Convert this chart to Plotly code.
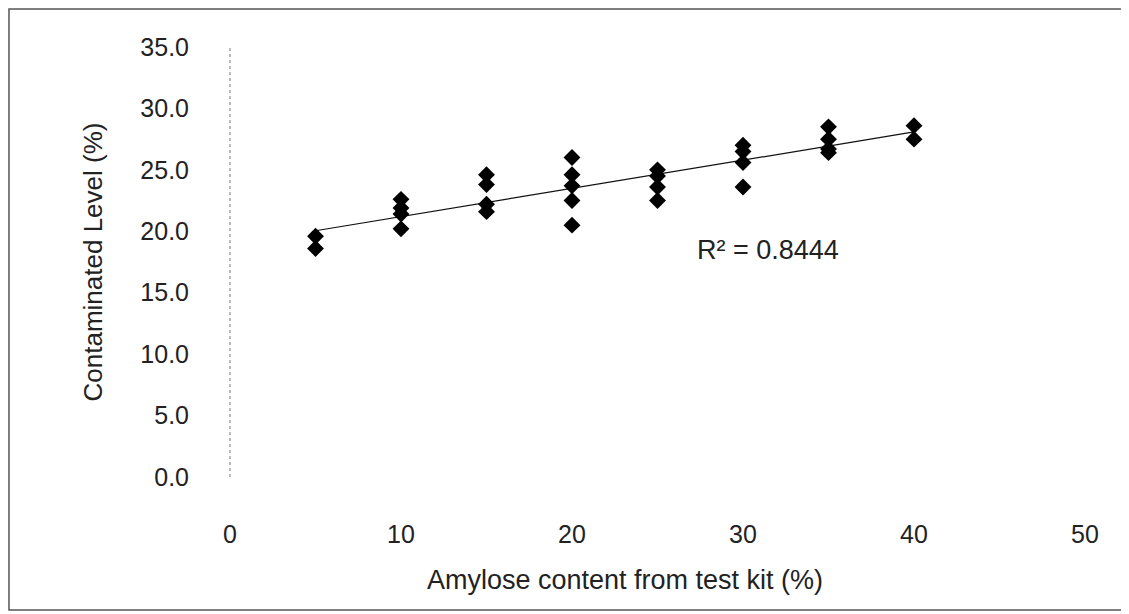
import numpy as np
import plotly.graph_objects as go

# Data
amylose_x = [5, 5,
             10, 10, 10, 10,
             15, 15, 15, 15,
             20, 20, 20, 20, 20,
             25, 25, 25, 25,
             30, 30, 30, 30,
             35, 35, 35, 35,
             40, 40]
contam_y = [19.6, 18.6,
            22.6, 21.9, 21.4, 20.2,
            24.6, 23.8, 22.2, 21.6,
            26.0, 24.6, 23.7, 22.5, 20.5,
            25.0, 24.5, 23.6, 22.5,
            27.0, 26.5, 25.6, 23.6,
            28.5, 27.5, 26.7, 26.4,
            28.6, 27.5]
r2_label = "R\u00b2 = 0.8444"
x_title = "Amylose content from test kit (%)"
y_title = "Contaminated Level (%)"
x_ticks = [0, 10, 20, 30, 40, 50]
y_ticks = [0, 5, 10, 15, 20, 25, 30, 35]

xa = np.array(amylose_x, dtype=float)
ya = np.array(contam_y, dtype=float)
slope, intercept = np.polyfit(xa, ya, 1)
fit_x = [xa.min(), xa.max()]
fit_y = [slope * v + intercept for v in fit_x]

FONT = "Liberation Sans, Arial, sans-serif"

fig = go.Figure()
fig.add_trace(go.Scatter(x=fit_x, y=fit_y, mode="lines",
                         line=dict(color="#111", width=1.2),
                         showlegend=False, hoverinfo="skip"))
fig.add_trace(go.Scatter(x=amylose_x, y=contam_y, mode="markers",
                         marker=dict(symbol="diamond", size=13, color="black",
                                     line=dict(width=0)),
                         showlegend=False))

fig.add_annotation(x=27.2, y=18.5, xref="x", yref="y", text=r2_label,
                   showarrow=False, xanchor="left", yanchor="middle",
                   font=dict(family=FONT, size=27, color="#222"))

# x-axis title (sits a little left of the plot centre in the reference)
fig.add_annotation(x=0.462, y=-0.24, xref="paper", yref="paper", text=x_title,
                   showarrow=False, xanchor="center", yanchor="middle",
                   font=dict(family=FONT, size=27, color="#222"))

# outer frame
fig.add_shape(type="rect", xref="paper", yref="paper",
              x0=-0.2585, x1=1.0456, y0=-0.3093, y1=1.0884,
              line=dict(color="#555", width=1.5), fillcolor="rgba(0,0,0,0)",
              layer="below")
# dotted y-axis line
fig.add_shape(type="line", xref="paper", yref="paper",
              x0=0, x1=0, y0=0, y1=1,
              line=dict(color="#777", width=1, dash="dot"))

fig.update_layout(
    width=1129, height=614,
    margin=dict(l=222, r=52, t=39, b=145),
    paper_bgcolor="white", plot_bgcolor="white",
    font=dict(family=FONT, size=25, color="#222"),
    xaxis=dict(range=[0, 50], tickvals=x_ticks, ticktext=[str(v) for v in x_ticks],
               showgrid=False, zeroline=False, showline=False,
               ticks="", ticklabelstandoff=40),
    yaxis=dict(range=[0, 35], tickvals=y_ticks,
               ticktext=["%.1f" % v for v in y_ticks],
               showgrid=False, zeroline=False, showline=False,
               ticks="", ticklabelstandoff=40,
               title=dict(text=y_title, standoff=30,
                          font=dict(size=26))),
)

fig.write_html("out.html")
